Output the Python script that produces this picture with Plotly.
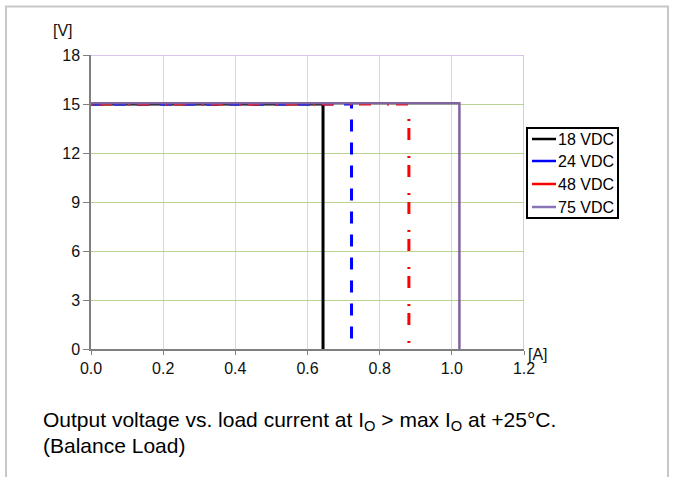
import plotly.graph_objects as go

# Data
series_names = ["18 VDC", "24 VDC", "48 VDC", "75 VDC"]
current_18 = [0.0, 0.643, 0.643]
voltage_18 = [15.0, 15.0, 0.0]
current_24 = [0.0, 0.722, 0.722]
voltage_24 = [15.0, 15.0, 0.0]
current_48 = [0.0, 0.881, 0.881]
voltage_48 = [15.0, 15.0, 0.0]
current_75 = [0.0, 1.021, 1.021]
voltage_75 = [15.05, 15.05, 0.0]
x_ticks = [0.0, 0.2, 0.4, 0.6, 0.8, 1.0, 1.2]
y_ticks = [0, 3, 6, 9, 12, 15, 18]

FONT = "Liberation Sans, Arial, sans-serif"
L, R, T, B, W, H = 91, 152, 55, 128, 676, 477
PW, PH = W - L - R, H - T - B


def px_x(p):
    return (p - L) / PW


def px_y(p):
    return (H - B - p) / PH


colors = ["#000000", "#0000ff", "#ff0000", "#8064a2"]
dashes = ["solid", "12px,11px", "2px,7px,12px,16px", "solid"]
widths = [3, 3, 3, 2.5]

fig = go.Figure()
for name, xs, ys, c, d, w in zip(series_names,
                                 [current_18, current_24, current_48, current_75],
                                 [voltage_18, voltage_24, voltage_48, voltage_75],
                                 colors, dashes, widths):
    fig.add_trace(go.Scatter(x=xs, y=ys, mode="lines", name=name,
                             line=dict(color=c, width=w, dash=d), showlegend=False))

fig.update_layout(
    width=W, height=H,
    margin=dict(l=L, r=R, t=T, b=B),
    paper_bgcolor="white", plot_bgcolor="white",
    font=dict(family=FONT, size=16, color="#111111"),
    showlegend=False,
    xaxis=dict(range=[0, 1.2], tickvals=x_ticks, tickformat=".1f",
               showgrid=True, gridcolor="#d9d9d9", gridwidth=1,
               showline=True, linecolor="#7f7f7f", linewidth=1.5,
               ticks="outside", ticklen=4, tickcolor="#7f7f7f",
               tickfont=dict(size=16),
               zeroline=False, fixedrange=True),
    yaxis=dict(range=[0, 18], tickvals=y_ticks,
               showgrid=True, gridcolor="#bcd295", gridwidth=1,
               showline=True, linecolor="#7f7f7f", linewidth=1.5,
               ticks="outside", ticklen=6, tickcolor="#7f7f7f",
               tickfont=dict(size=16),
               zeroline=False, fixedrange=True),
)

# plot area top/right border (light purple)
fig.add_shape(type="line", xref="x", yref="y", x0=0, x1=1.2, y0=18, y1=18,
              line=dict(color="#cdb5e8", width=1.5))
fig.add_shape(type="line", xref="x", yref="y", x0=1.2, x1=1.2, y0=0, y1=18,
              line=dict(color="#cdb5e8", width=1.5))

# outer frame
fig.add_shape(type="rect", xref="paper", yref="paper",
              x0=px_x(6), x1=px_x(668), y0=px_y(490), y1=px_y(6.5),
              line=dict(color="#c8c8c8", width=2), layer="below")

# legend (drawn manually to match box geometry)
fig.add_shape(type="rect", xref="paper", yref="paper",
              x0=px_x(527), x1=px_x(618), y0=px_y(218), y1=px_y(128),
              line=dict(color="#000000", width=2), fillcolor="white")
legend_rows = [139, 161, 184, 207]
legend_colors = ["#000000", "#0000ff", "#ff0000", "#8a74b8"]
for name, row, c in zip(series_names, legend_rows, legend_colors):
    fig.add_shape(type="line", xref="paper", yref="paper",
                  x0=px_x(532), x1=px_x(556), y0=px_y(row), y1=px_y(row),
                  line=dict(color=c, width=2.5))
    fig.add_annotation(text=name, xref="paper", yref="paper",
                       x=px_x(556), y=px_y(row), showarrow=False,
                       xanchor="left", yanchor="middle",
                       font=dict(size=16, color="#000000"))

# axis unit labels
fig.add_annotation(text="[V]", xref="paper", yref="paper",
                   x=px_x(63), y=px_y(31), showarrow=False,
                   xanchor="center", yanchor="middle", font=dict(size=16, color="#111111"))
fig.add_annotation(text="[A]", xref="paper", yref="paper",
                   x=px_x(538), y=px_y(354), showarrow=False,
                   xanchor="center", yanchor="middle", font=dict(size=16, color="#111111"))

# caption
fig.add_annotation(text="Output voltage vs. load current at I<sub>O</sub> > max I<sub>O</sub> at +25°C.",
                   xref="paper", yref="paper", x=px_x(41), y=px_y(421),
                   showarrow=False, xanchor="left", yanchor="middle",
                   font=dict(size=21, color="#000000"))
fig.add_annotation(text="(Balance Load)",
                   xref="paper", yref="paper", x=px_x(41), y=px_y(445),
                   showarrow=False, xanchor="left", yanchor="middle",
                   font=dict(size=21, color="#000000"))

fig.write_html("out.html", config={"displayModeBar": False},
               post_script="document.body.style.margin='0';")
